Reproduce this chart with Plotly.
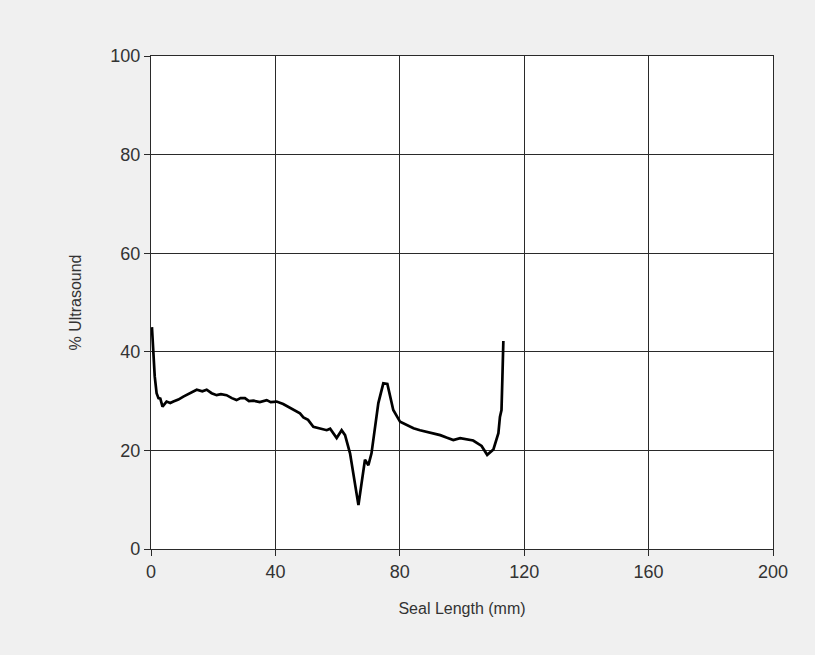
import plotly.graph_objects as go

seal_length = [0.3, 0.7, 1.2, 1.8, 2.4, 3.0, 3.7, 5.0, 6.2, 7.2, 8.8, 10.4, 12.5, 14.7, 16.5, 17.9,
               19.5, 21.1, 22.5, 24.3, 26.0, 27.5, 28.8, 30.2, 31.5, 32.9, 35.0, 37.2, 38.5,
               40.4, 42.5, 45.8, 47.9, 49.0, 50.5, 52.2, 54.5, 56.5, 57.6, 58.6,
               59.7, 61.3, 62.4, 64.0, 65.6, 66.7, 67.7, 68.8, 69.9, 70.9, 73.1, 74.7, 76.0,
               77.9, 80.1, 82.0, 84.4, 86.5, 88.7, 91.0, 93.0, 95.0, 97.2, 99.4, 101.5, 103.6,
               106.3, 108.1, 110.1, 111.7, 112.2, 112.7, 113.0, 113.3]
ultrasound = [45.0, 41.0, 35.0, 31.6, 30.6, 30.5, 28.9, 29.9, 29.6, 29.9, 30.3, 30.9, 31.6, 32.3,
              32.0, 32.3, 31.6, 31.2, 31.4, 31.2, 30.6, 30.2, 30.6, 30.6, 30.0, 30.1, 29.8, 30.2,
              29.8, 29.9, 29.4, 28.2, 27.5, 26.7, 26.2, 24.8, 24.5, 24.1, 24.4, 23.6,
              22.5, 24.1, 23.1, 19.4, 12.6, 8.9, 13.3, 18.1, 17.0, 19.4, 29.6, 33.6, 33.5,
              28.2, 25.8, 25.2, 24.5, 24.1, 23.8, 23.4, 23.1, 22.6, 22.1, 22.5, 22.3, 22.0,
              20.9, 19.1, 20.2, 23.5, 26.8, 28.2, 35.0, 42.2]

x_ticks = [0, 40, 80, 120, 160, 200]
y_ticks = [0, 20, 40, 60, 80, 100]

font_fam = "Liberation Sans, Arial, sans-serif"

fig = go.Figure()
fig.add_trace(go.Scatter(x=seal_length, y=ultrasound, mode="lines",
                         line=dict(color="black", width=2.7), showlegend=False))

axis_common = dict(showgrid=True, gridcolor="#2a2a2a", gridwidth=1.2,
                   showline=True, linecolor="#2a2a2a", linewidth=1.2, mirror=True,
                   ticks="outside", ticklen=6, tickcolor="#2a2a2a",
                   zeroline=False, tickfont=dict(size=18, color="#333333", family=font_fam))

fig.update_xaxes(range=[0, 200], tickvals=x_ticks, ticktext=[str(v) for v in x_ticks],
                 title=dict(text="Seal Length (mm)", font=dict(size=16, color="#333333", family=font_fam),
                            standoff=22),
                 **axis_common)
fig.update_yaxes(range=[0, 100], tickvals=y_ticks, ticktext=[str(v) for v in y_ticks],
                 title=dict(text="% Ultrasound", font=dict(size=16, color="#333333", family=font_fam),
                            standoff=24),
                 **axis_common)

fig.update_layout(width=815, height=655, paper_bgcolor="#f0f0f0", plot_bgcolor="white",
                  margin=dict(l=151, r=42, t=56, b=106), font=dict(family=font_fam))

fig.write_html("out.html")
